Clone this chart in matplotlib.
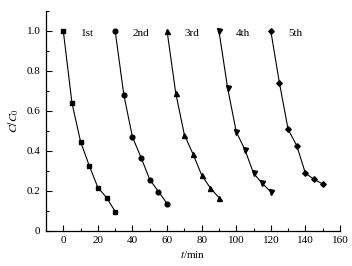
import matplotlib
matplotlib.use("Agg")
import matplotlib.pyplot as plt
from matplotlib.ticker import MultipleLocator, FuncFormatter

# cycles of adsorption, C/C0 vs time
t_1st = [0, 5, 10, 15, 20, 25, 30]
c_1st = [1.0, 0.64, 0.445, 0.325, 0.215, 0.165, 0.095]
t_2nd = [30, 35, 40, 45, 50, 55, 60]
c_2nd = [1.0, 0.68, 0.468, 0.365, 0.255, 0.195, 0.135]
t_3rd = [60, 65, 70, 75, 80, 85, 90]
c_3rd = [1.0, 0.69, 0.48, 0.383, 0.278, 0.213, 0.165]
t_4th = [90, 95, 100, 105, 110, 115, 120]
c_4th = [1.0, 0.715, 0.495, 0.405, 0.287, 0.236, 0.194]
t_5th = [120, 125, 130, 135, 140, 145, 150]
c_5th = [1.0, 0.738, 0.507, 0.425, 0.287, 0.256, 0.233]

labels = ["1st", "2nd", "3rd", "4th", "5th"]
markers = ["s", "o", "^", "v", "D"]
series = [(t_1st, c_1st), (t_2nd, c_2nd), (t_3rd, c_3rd), (t_4th, c_4th), (t_5th, c_5th)]

plt.rcParams["font.family"] = ["Liberation Serif", "DejaVu Serif"]
plt.rcParams["mathtext.fontset"] = "stix"

fig = plt.figure(figsize=(3.52, 2.66), dpi=100)
ax = fig.add_axes([46 / 352, 1 - 230.5 / 266, (340 - 46) / 352, (230.5 - 11) / 266])

sizes = {"s": 3.0, "o": 3.4, "^": 3.6, "v": 3.6, "D": 2.8}
for (t, c), m, lab in zip(series, markers, labels):
    ax.plot(t, c, color="black", lw=0.8, marker=m, ms=sizes[m])
    ax.text(t[0] + 10, 0.985, lab, fontsize=8, ha="left", va="center")

ax.set_xlim(-10, 160)
ax.set_ylim(0, 1.1)
ax.xaxis.set_major_locator(MultipleLocator(20))
ax.xaxis.set_minor_locator(MultipleLocator(10))
ax.yaxis.set_major_locator(MultipleLocator(0.2))
ax.yaxis.set_minor_locator(MultipleLocator(0.1))
ax.yaxis.set_major_formatter(FuncFormatter(lambda v, p: "0" if abs(v) < 1e-9 else f"{v:.1f}"))
ax.set_xticks([0, 20, 40, 60, 80, 100, 120, 140, 160])

for s in ("top", "right"):
    ax.spines[s].set_visible(False)
for s in ("left", "bottom"):
    ax.spines[s].set_linewidth(0.9)

ax.tick_params(which="both", direction="in", labelsize=8, width=0.8, pad=4)
ax.tick_params(which="major", length=4)
ax.tick_params(which="minor", length=2.5)

ax.set_xlabel(r"$t$/min", fontsize=8, labelpad=3)
ax.set_ylabel(r"$C/C_0$", fontsize=8.5, labelpad=4)

fig.savefig("out.png", dpi=100)
